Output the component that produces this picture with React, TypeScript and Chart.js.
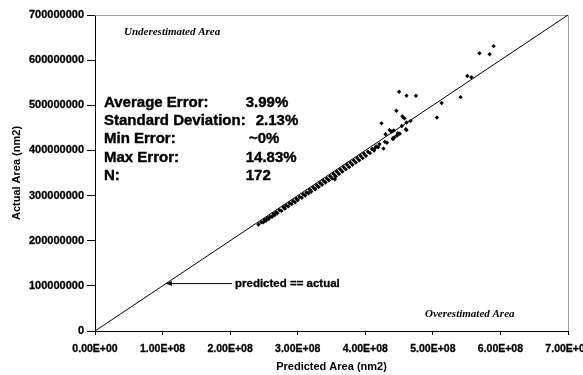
import React, { useEffect, useRef } from "react";
import { Chart, registerables } from "chart.js";

Chart.register(...registerables);

// Axis tick labels (axes run 0..700 in units of 1,000,000 nm2)
const xTickLabels = ["0.00E+00", "1.00E+08", "2.00E+08", "3.00E+08", "4.00E+08", "5.00E+08", "6.00E+08", "7.00E+08"];
const yTickLabels = ["0", "100000000", "200000000", "300000000", "400000000", "500000000", "600000000", "700000000"];

// Scatter points, in millions of nm2
const predicted = [
  242, 246, 249, 251, 253, 255, 257, 259, 262, 264, 266, 268, 270, 273, 276, 279, 281, 283, 286, 288,
  291, 293, 296, 298, 300, 303, 306, 308, 311, 313, 316, 318, 320, 323, 326, 328, 331, 333, 336, 338,
  341, 343, 346, 348, 351, 353, 356, 358, 361, 363, 366, 368, 371, 373, 376, 378, 381, 383, 386, 388,
  391, 393, 396, 398, 401, 404, 407, 410, 413, 416, 419, 421, 356, 355,
  590, 569, 584, 551, 557, 450, 461, 475, 513, 541, 506, 446, 455, 424, 467, 461, 454, 460, 436, 442,
  439, 430, 451, 447, 443, 441, 432, 414, 427, 448, 441, 429, 461, 458,
];
const actual = [
  236, 241, 241, 246, 244, 250, 248, 253, 253, 259, 257, 263, 261, 268, 266, 274, 271, 278, 276, 283,
  281, 288, 285, 293, 290, 297, 295, 303, 300, 307, 305, 313, 309, 318, 314, 323, 319, 328, 324, 333,
  329, 338, 334, 343, 338, 348, 343, 353, 348, 358, 353, 363, 358, 368, 363, 373, 368, 378, 373, 383,
  378, 388, 383, 393, 388, 397, 394, 403, 400, 409, 407, 414, 342, 336,
  631, 615, 613, 565, 562, 530, 521, 521, 505, 518, 473, 488, 475, 460, 465, 462, 454, 447, 445, 444,
  441, 436, 437, 433, 429, 425, 417, 404, 404, 438, 427, 419, 445, 471,
];

// Reference line predicted == actual
const refLine = [0, 700];
const arrowTipValue = 105;

const statLabels = ["Average Error:", "Standard Deviation:", "Min Error:", "Max Error:", "N:"];
const statValues = ["3.99%", "2.13%", "~0%", "14.83%", "172"];

const SANS = '"Liberation Sans", Arial, sans-serif';
const SERIF = '"Liberation Serif", "Times New Roman", serif';

function boldText(ctx: any, t: string, x: number, y: number, w: number) {
  ctx.lineWidth = w;
  ctx.strokeText(t, x, y);
  ctx.fillText(t, x, y);
}

const overlayPlugin = {
  id: "overlay",
  beforeDatasetsDraw(chart: any) {
    const { ctx, chartArea: a } = chart;
    ctx.save();
    ctx.strokeStyle = "#a0a0a0";
    ctx.lineWidth = 1;
    ctx.beginPath();
    ctx.moveTo(a.left, a.top + 0.5);
    ctx.lineTo(a.right + 0.5, a.top + 0.5);
    ctx.lineTo(a.right + 0.5, a.bottom);
    ctx.stroke();
    ctx.restore();
  },
  afterDraw(chart: any) {
    const { ctx, scales } = chart;
    const xs = scales.x;
    const ys = scales.y;
    ctx.save();
    ctx.fillStyle = "#000";
    ctx.strokeStyle = "#000";
    ctx.textBaseline = "alphabetic";
    ctx.textAlign = "left";

    ctx.font = `italic bold 11px ${SERIF}`;
    ctx.fillText("Underestimated Area", 124, 34.5);
    ctx.fillText("Overestimated Area", 425, 316.5);

    ctx.font = `bold 15px ${SANS}`;
    const baselines = [106.7, 125, 143.3, 161.7, 180];
    const valueX = [245.7, 255.7, 249, 245.7, 245.7];
    statLabels.forEach((l, i) => {
      boldText(ctx, l, 104, baselines[i], 0.4);
      boldText(ctx, statValues[i], valueX[i], baselines[i], 0.4);
    });

    // arrow annotation
    const tipX = xs.getPixelForValue(arrowTipValue);
    const tipY = ys.getPixelForValue(arrowTipValue);
    ctx.lineWidth = 1;
    ctx.beginPath();
    ctx.moveTo(232, tipY);
    ctx.lineTo(tipX + 4, tipY);
    ctx.stroke();
    ctx.beginPath();
    ctx.moveTo(tipX, tipY);
    ctx.lineTo(tipX + 6, tipY - 2.5);
    ctx.lineTo(tipX + 6, tipY + 2.5);
    ctx.closePath();
    ctx.fill();
    ctx.font = `bold 11.5px ${SANS}`;
    ctx.textBaseline = "middle";
    boldText(ctx, "predicted == actual", 235, tipY, 0.3);
    ctx.restore();
  },
};

export default function App() {
  const ref = useRef<HTMLCanvasElement | null>(null);

  useEffect(() => {
    if (!ref.current) return;
    const points = predicted.map((p, i) => ({ x: p, y: actual[i] }));
    const line = refLine.map((v) => ({ x: v, y: v }));
    const chart = new Chart(ref.current, {
      type: "scatter",
      data: {
        datasets: [
          {
            type: "line",
            data: line,
            borderColor: "#000",
            borderWidth: 1,
            pointRadius: 0,
            fill: false,
            order: 2,
          } as any,
          {
            data: points,
            backgroundColor: "#000",
            borderColor: "#000",
            pointStyle: "rectRot",
            pointRadius: 2.2,
            borderWidth: 0,
            order: 1,
          },
        ],
      },
      options: {
        animation: false,
        responsive: true,
        maintainAspectRatio: false,
        layout: { padding: { top: 15, right: 15, left: 0, bottom: 0 } },
        plugins: { legend: { display: false }, tooltip: { enabled: false } },
        scales: {
          x: {
            type: "linear",
            position: "bottom",
            min: 0,
            max: 700,
            ticks: {
              stepSize: 100,
              autoSkip: false,
              maxRotation: 0,
              padding: 8,
              color: "#000",
              textStrokeColor: "#000",
              textStrokeWidth: 0.3,
              font: { family: SANS, size: 10.5, weight: "bold" },
              callback: (_v: any, i: number) => xTickLabels[i],
            },
            grid: { drawOnChartArea: false, tickLength: 4, color: "#000", tickColor: "#000" },
            border: { color: "#000", width: 1 },
            title: {
              display: true,
              text: "Predicted Area (nm2)",
              color: "#000",
              font: { family: SANS, size: 11, weight: "bold" },
              padding: { top: 0, bottom: 1.5 },
            },
            afterFit: (s: any) => {
              s.height = 44;
              s.paddingLeft = 0;
              s.paddingRight = 0;
            },
          },
          y: {
            type: "linear",
            min: 0,
            max: 700,
            ticks: {
              stepSize: 100,
              autoSkip: false,
              padding: 3,
              color: "#000",
              textStrokeColor: "#000",
              textStrokeWidth: 0.3,
              font: { family: SANS, size: 11, weight: "bold" },
              callback: (_v: any, i: number) => yTickLabels[i],
            },
            grid: { drawOnChartArea: false, tickLength: 8, color: "#000", tickColor: "#000" },
            border: { color: "#000", width: 1 },
            title: {
              display: true,
              text: "Actual Area (nm2)",
              color: "#000",
              font: { family: SANS, size: 11, weight: "bold" },
              padding: { top: 10.5, bottom: 0 },
            },
            afterFit: (s: any) => {
              s.width = 95;
              s.paddingTop = 0;
              s.paddingBottom = 0;
            },
          },
        },
      },
      plugins: [overlayPlugin],
    });
    return () => chart.destroy();
  }, []);

  return (
    <div style={{ position: "fixed", left: 0, top: 0, width: 583, height: 375, background: "#fff" }}>
      <canvas ref={ref} />
    </div>
  );
}
